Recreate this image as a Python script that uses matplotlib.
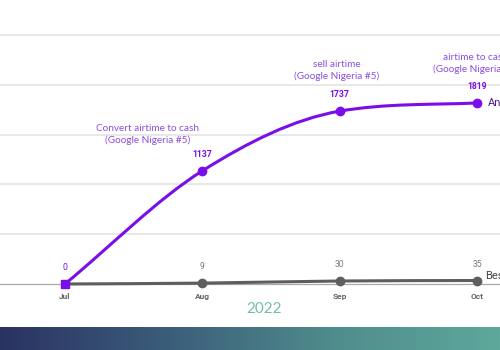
import numpy as np
import matplotlib.pyplot as plt
from matplotlib.path import Path
from matplotlib.patches import PathPatch
from matplotlib.colors import LinearSegmentedColormap

months = ['Jul', 'Aug', 'Sep', 'Oct']
airtime = [0, 1137, 1737, 1819]
best = [0, 9, 30, 35]
notes = ['Convert airtime to cash\n(Google Nigeria #5)', 'sell airtime\n(Google Nigeria #5)',
         'airtime to cash\n(Google Nigeria #5)']
note_x = [0.6, 1.98, 2.99]
note_y = [1500, 2146, 2216]
year = '2022'

purple = '#7a0ee8'
grey = '#5e5e5e'


def monotone_path(x, y):
    # Fritsch-Carlson tangents -> cubic bezier segments
    x = np.asarray(x, float)
    y = np.asarray(y, float)
    d = np.diff(y) / np.diff(x)
    m = np.zeros(len(y))
    m[0], m[-1] = d[0], d[-1]
    m[1:-1] = (d[:-1] + d[1:]) / 2
    for i in range(len(d)):
        if d[i] == 0:
            m[i] = m[i + 1] = 0
            continue
        a, b = m[i] / d[i], m[i + 1] / d[i]
        s = a * a + b * b
        if s > 9:
            t = 3 / np.sqrt(s)
            m[i] = t * a * d[i]
            m[i + 1] = t * b * d[i]
    verts = [(x[0], y[0])]
    codes = [Path.MOVETO]
    for i in range(len(d)):
        h = (x[i + 1] - x[i]) / 3
        verts += [(x[i] + h, y[i] + m[i] * h), (x[i + 1] - h, y[i + 1] - m[i + 1] * h), (x[i + 1], y[i + 1])]
        codes += [Path.CURVE4] * 3
    return Path(verts, codes)


fig = plt.figure(figsize=(5, 3.5), dpi=100)
fig.patch.set_facecolor('white')

ax = fig.add_axes([0, 47 / 350, 1, 303 / 350])
xs = np.arange(len(months))
ax.set_xlim(-0.473, 3.167)
ax.set_ylim(-191, 2854)
ax.axis('off')

for g in [500, 1000, 1500, 2000, 2500]:
    ax.axhline(g, color='#e8e8e8', lw=1.4, zorder=0)
ax.axhline(0, color='#a8a8a8', lw=0.9, zorder=1)

ax.add_patch(PathPatch(monotone_path(xs, best), fill=False, color=grey, lw=2.2, zorder=2))
ax.plot(xs[1:], best[1:], 'o', color=grey, ms=6, zorder=3)
ax.add_patch(PathPatch(monotone_path(xs, airtime), fill=False, color=purple, lw=2.2, zorder=4))
ax.plot(xs[1:], airtime[1:], 'o', color=purple, ms=6, zorder=5)
ax.plot(xs[0], airtime[0], 's', color=purple, ms=6, zorder=5)

for i, v in enumerate(airtime):
    ax.annotate(str(v), (i, v), xytext=(0, 10), textcoords='offset points', ha='center',
                fontsize=6.2, color=purple, fontweight='normal' if i == 0 else 'bold', family='Roboto')
for i, v in enumerate(best):
    if i == 0:
        continue
    ax.annotate(str(v), (i, v), xytext=(0, 10), textcoords='offset points', ha='center',
                fontsize=6.2, color='#777777', family='Roboto')

for i, m in enumerate(months):
    ax.annotate(m, (i, 0), xytext=(0, -9), textcoords='offset points', ha='center', va='center',
                fontsize=6, color='#666666', fontweight='bold', family='Roboto')

for t, nx, ny in zip(notes, note_x, note_y):
    ax.text(nx, ny, t, ha='center', va='center', fontsize=7.2, color='#8a4fe0',
            family='Lato', linespacing=1.3)

ax.annotate('Android', (3, airtime[-1]), xytext=(8, 0), textcoords='offset points', va='center',
            fontsize=8, color='#4a1a8a', family='Roboto', annotation_clip=False)
ax.annotate('Best', (3, best[-1]), xytext=(6, 3), textcoords='offset points', va='center',
            fontsize=8, color='#444444', family='Roboto', annotation_clip=False)

fig.text(264 / 500, 1 - 309 / 350, year, ha='center', va='center', fontsize=11,
         color='#72c0a0', family='Lato')

# bottom gradient band
band = fig.add_axes([0, 0, 1, 23 / 350])
cmap = LinearSegmentedColormap.from_list('band', ['#2a3262', '#3b5d7a', '#4f8c8c', '#5ea89b'])
band.imshow(np.linspace(0, 1, 256)[None, :], aspect='auto', cmap=cmap, extent=[0, 1, 0, 1])
band.axis('off')

fig.savefig('out.png', dpi=100)
